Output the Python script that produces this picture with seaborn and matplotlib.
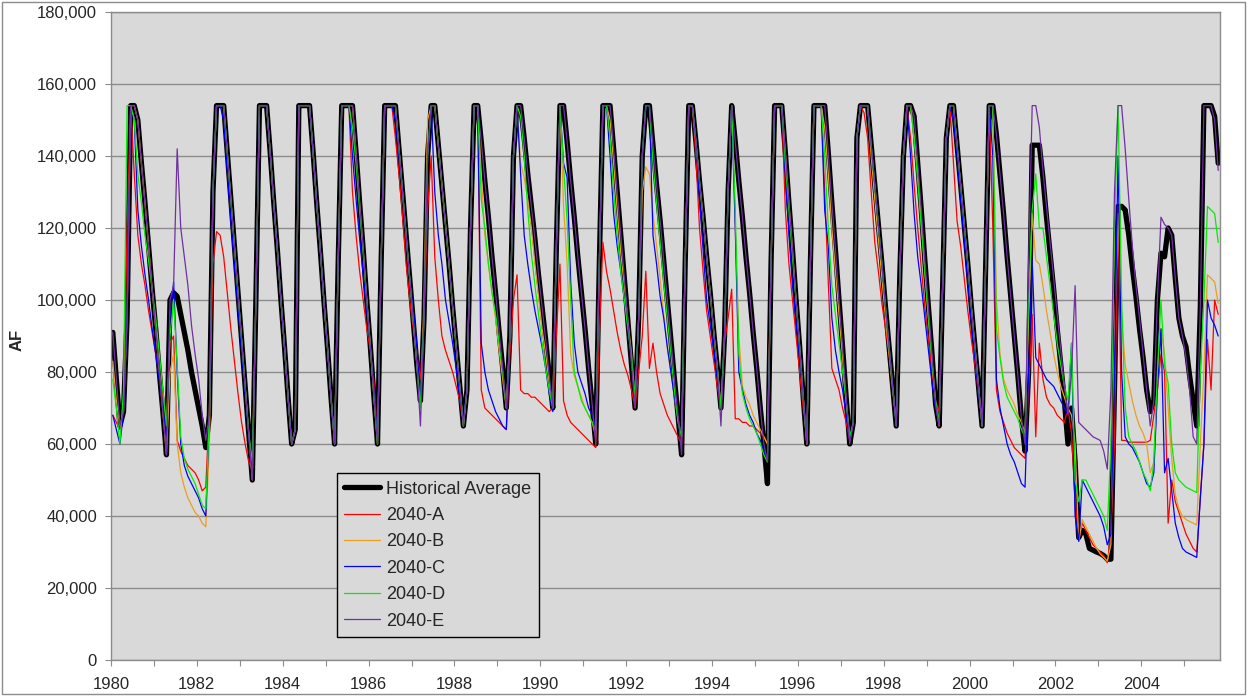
import numpy as np
import pandas as pd
import matplotlib
matplotlib.use("Agg")
import matplotlib.pyplot as plt
from matplotlib.patches import Rectangle
from matplotlib.ticker import FuncFormatter, MultipleLocator
import seaborn as sns

# Monthly storage in thousand AF, one row per calendar year (Jan 1980 - Oct 2005)
hist = [
    [91, 78, 65, 69, 95, 154, 154, 150, 138, 127, 115, 103],
    [92, 80, 69, 57, 100, 102, 101, 96, 91, 86, 80, 75],
    [70, 65, 59, 68, 130, 154, 154, 154, 141, 128, 115, 102],
    [89, 76, 63, 50, 100, 154, 154, 154, 141, 127, 114, 100],
    [87, 73, 60, 64, 154, 154, 154, 154, 141, 127, 114, 100],
    [87, 73, 60, 110, 154, 154, 154, 154, 141, 127, 114, 100],
    [87, 73, 60, 110, 154, 154, 154, 154, 142, 130, 118, 106],
    [94, 82, 72, 95, 140, 154, 154, 143, 132, 121, 110, 98],
    [87, 76, 65, 75, 120, 154, 154, 144, 133, 123, 112, 102],
    [91, 81, 70, 90, 140, 154, 154, 145, 135, 126, 117, 107],
    [98, 89, 79, 70, 115, 154, 154, 144, 133, 123, 112, 102],
    [92, 81, 71, 60, 110, 154, 154, 154, 142, 130, 118, 106],
    [94, 82, 70, 95, 140, 154, 154, 143, 132, 122, 111, 100],
    [89, 78, 68, 57, 110, 154, 154, 144, 133, 123, 112, 102],
    [91, 81, 70, 90, 130, 154, 144, 133, 123, 112, 102, 91],
    [81, 70, 60, 49, 110, 154, 154, 154, 141, 127, 114, 100],
    [87, 73, 60, 110, 154, 154, 154, 154, 141, 127, 114, 100],
    [87, 73, 60, 66, 145, 154, 154, 154, 143, 132, 121, 110],
    [98, 87, 76, 65, 107, 140, 154, 154, 151, 138, 125, 111],
    [98, 85, 71, 65, 105, 145, 154, 154, 143, 132, 121, 110],
    [98, 87, 76, 65, 110, 154, 154, 146, 135, 124, 112, 101],
    [90, 79, 67, 58, 80, 143, 143, 143, 134, 123, 113, 103],
    [92, 82, 72, 60, 70, 55, 34, 36, 35, 31, 30.5, 30],
    [29.6, 29, 28, 28, 75, 126, 126, 125, 118, 109, 101, 92],
    [84, 75, 69, 72, 100, 113, 112, 120, 118, 106, 95, 90],
    [87, 79, 72, 65, 98, 154, 154, 154, 151, 138],
]

scen_a = [
    [68, 66, 64, 70, 120, 154, 135, 118, 110, 104, 97, 91],
    [85, 79, 73, 67, 88, 90, 61, 58, 56, 54, 53, 52],
    [50, 47, 48, 70, 110, 119, 118, 112, 102, 92, 83, 74],
    [66, 60, 55, 53, 100, 154, 154, 154, 141, 127, 114, 100],
    [87, 73, 60, 64, 154, 154, 154, 154, 141, 127, 114, 100],
    [87, 73, 60, 110, 154, 154, 154, 130, 118, 108, 100, 92],
    [86, 77, 62, 110, 154, 154, 154, 145, 135, 123, 110, 100],
    [92, 85, 78, 95, 125, 140, 112, 100, 90, 86, 83, 80],
    [76, 72, 66, 75, 120, 154, 154, 75, 70, 69, 68, 67],
    [66, 65, 64, 85, 100, 107, 75, 74, 74, 73, 73, 72],
    [71, 70, 69, 70, 90, 110, 72, 68, 66, 65, 64, 63],
    [62, 61, 60, 59, 90, 116, 108, 103, 97, 91, 86, 82],
    [79, 75, 70, 80, 90, 108, 81, 88, 80, 74, 71, 68],
    [66, 64, 62, 60, 110, 154, 154, 140, 120, 108, 97, 90],
    [83, 76, 70, 88, 95, 103, 67, 67, 66, 66, 65, 65],
    [64, 63, 62, 60, 110, 154, 154, 154, 125, 110, 100, 90],
    [80, 70, 62, 110, 154, 154, 154, 130, 105, 81, 78, 75],
    [70, 66, 61, 66, 145, 154, 152, 145, 130, 116, 108, 99],
    [92, 85, 76, 66, 107, 140, 154, 145, 132, 120, 109, 98],
    [89, 80, 72, 69, 105, 145, 154, 138, 122, 115, 106, 97],
    [89, 82, 74, 67, 110, 154, 120, 75, 69, 66, 63, 61],
    [59, 58, 57, 56, 75, 96, 62, 88, 78, 73, 71, 70],
    [68, 67, 66, 70, 63, 45, 33, 38, 36, 34, 32, 31],
    [30, 29, 27, 35, 60, 126, 61, 61, 60.5, 60.5, 60.5, 60.5],
    [60.5, 60.5, 61, 68, 75, 85, 80, 38, 50, 44, 41, 38],
    [35, 33, 31, 30, 45, 60, 89, 75, 100, 96],
]

scen_b = [
    [83, 72, 65, 69, 95, 154, 154, 150, 138, 127, 115, 103],
    [92, 80, 69, 57, 80, 85, 60, 52, 48, 45, 43, 41],
    [40, 38, 37, 60, 130, 154, 154, 154, 141, 128, 115, 102],
    [89, 76, 63, 50, 100, 154, 154, 154, 141, 127, 114, 100],
    [87, 73, 60, 64, 154, 154, 154, 154, 141, 127, 114, 100],
    [87, 73, 60, 110, 154, 154, 154, 154, 141, 127, 114, 100],
    [87, 73, 60, 110, 154, 154, 154, 154, 142, 130, 118, 106],
    [94, 82, 70, 100, 150, 154, 154, 143, 132, 121, 110, 98],
    [87, 76, 65, 75, 120, 154, 154, 135, 118, 110, 102, 95],
    [86, 78, 70, 90, 140, 154, 138, 134, 128, 120, 110, 101],
    [92, 85, 77, 70, 115, 154, 126, 110, 85, 79, 76, 73],
    [70, 68, 66, 62, 110, 154, 154, 150, 138, 125, 113, 104],
    [94, 85, 72, 95, 130, 137, 135, 124, 115, 106, 96, 87],
    [80, 73, 67, 62, 110, 154, 154, 144, 133, 123, 112, 102],
    [91, 81, 70, 90, 130, 154, 120, 90, 76, 73, 71, 68],
    [66, 64, 62, 60, 110, 154, 154, 154, 141, 127, 114, 100],
    [87, 73, 60, 110, 154, 154, 154, 148, 135, 120, 108, 96],
    [84, 72, 61, 66, 145, 154, 154, 154, 140, 128, 117, 106],
    [95, 85, 75, 66, 107, 140, 154, 154, 145, 136, 122, 108],
    [95, 83, 71, 65, 105, 145, 154, 154, 143, 132, 121, 110],
    [98, 87, 76, 65, 110, 154, 154, 100, 85, 78, 75, 73],
    [71, 68, 66, 63, 95, 124, 111, 110, 104, 97, 91, 85],
    [80, 76, 73, 70, 68, 60, 33, 39, 37, 35, 33, 31],
    [29.5, 28.5, 27.5, 32, 90, 124, 95, 82, 77, 72, 68, 65],
    [63, 60, 52, 55, 75, 92, 85, 70, 56, 46, 42, 40],
    [39, 38.5, 38, 37.5, 60, 80, 107, 106, 105, 99],
]

scen_c = [
    [68, 64, 60, 69, 95, 154, 150, 125, 115, 107, 100, 92],
    [85, 78, 70, 62, 95, 105, 80, 60, 54, 51, 49, 47],
    [45, 42, 40, 68, 130, 154, 154, 150, 136, 122, 110, 98],
    [86, 74, 62, 52, 100, 154, 154, 154, 141, 127, 114, 100],
    [87, 73, 60, 64, 154, 154, 154, 154, 141, 127, 114, 100],
    [87, 73, 60, 110, 154, 154, 154, 140, 128, 117, 107, 97],
    [87, 75, 62, 110, 154, 154, 154, 150, 140, 130, 117, 106],
    [97, 87, 72, 95, 140, 154, 130, 118, 110, 100, 94, 88],
    [81, 73, 67, 75, 120, 154, 154, 88, 80, 75, 72, 69],
    [67, 65, 64, 90, 140, 154, 135, 118, 110, 103, 97, 92],
    [87, 81, 74, 69, 115, 154, 138, 134, 105, 88, 80, 77],
    [74, 70, 68, 65, 110, 154, 154, 140, 124, 115, 108, 100],
    [92, 84, 73, 95, 140, 154, 154, 118, 110, 101, 95, 87],
    [80, 73, 67, 62, 110, 154, 154, 145, 128, 114, 100, 93],
    [86, 78, 70, 90, 130, 154, 120, 80, 75, 71, 68, 66],
    [63, 61, 58, 56, 110, 154, 154, 154, 135, 118, 104, 94],
    [84, 73, 62, 110, 154, 154, 154, 125, 115, 95, 86, 80],
    [75, 68, 61, 66, 145, 154, 154, 154, 143, 132, 121, 110],
    [98, 87, 76, 65, 107, 140, 154, 140, 124, 112, 104, 95],
    [86, 77, 70, 66, 105, 145, 154, 150, 140, 128, 117, 105],
    [94, 84, 74, 66, 110, 154, 140, 78, 70, 65, 60, 57],
    [55, 52, 49, 48, 80, 111, 84, 82, 80, 78, 77, 76],
    [74, 72, 70, 68, 88, 40, 33, 50, 48, 46, 44, 42],
    [40, 37, 32, 35, 80, 140, 80, 62, 60, 59, 57, 55],
    [52, 49, 48, 52, 75, 92, 52, 56, 47, 38, 34, 31],
    [30, 29.5, 29, 28.5, 45, 60, 100, 95, 93, 90],
]

scen_d = [
    [78, 70, 60, 75, 154, 154, 150, 135, 127, 118, 111, 103],
    [95, 85, 75, 65, 90, 100, 82, 62, 56, 53, 51, 49],
    [46, 43, 42, 68, 130, 154, 154, 154, 141, 128, 115, 102],
    [89, 76, 63, 55, 100, 154, 154, 154, 141, 127, 114, 100],
    [87, 73, 60, 64, 154, 154, 154, 154, 141, 127, 114, 100],
    [87, 73, 60, 110, 154, 154, 154, 148, 138, 125, 113, 100],
    [87, 73, 60, 110, 154, 154, 154, 154, 142, 130, 118, 106],
    [94, 82, 70, 95, 140, 154, 154, 143, 132, 121, 110, 98],
    [87, 76, 65, 75, 120, 154, 154, 128, 120, 110, 102, 96],
    [88, 80, 70, 90, 140, 154, 151, 140, 125, 113, 104, 96],
    [88, 81, 75, 70, 115, 154, 137, 122, 100, 80, 76, 72],
    [70, 68, 66, 64, 110, 154, 154, 145, 130, 118, 108, 100],
    [92, 84, 73, 95, 140, 154, 154, 138, 127, 116, 105, 95],
    [85, 75, 66, 62, 110, 154, 154, 144, 133, 123, 112, 102],
    [91, 81, 70, 90, 130, 154, 125, 85, 74, 70, 67, 65],
    [63, 60, 57, 55, 110, 154, 154, 154, 138, 125, 112, 100],
    [87, 73, 60, 110, 154, 154, 154, 140, 120, 104, 96, 88],
    [80, 72, 62, 66, 145, 154, 154, 154, 143, 132, 121, 110],
    [98, 87, 76, 65, 107, 140, 154, 154, 145, 133, 120, 108],
    [95, 83, 72, 66, 105, 145, 154, 154, 143, 132, 121, 110],
    [98, 87, 76, 65, 110, 154, 154, 92, 84, 77, 73, 71],
    [69, 67, 64, 62, 100, 125, 135, 120, 120, 112, 104, 96],
    [88, 82, 76, 72, 88, 50, 44, 50, 50, 48, 46, 44],
    [42, 40, 36, 60, 120, 154, 100, 70, 62, 60, 58, 55],
    [52, 50, 47, 55, 80, 100, 82, 77, 60, 52, 50, 49],
    [48, 47.5, 47, 46.5, 80, 100, 126, 125, 124, 116],
]

scen_e = [
    [91, 78, 65, 69, 95, 154, 154, 150, 138, 127, 115, 103],
    [92, 80, 69, 57, 100, 104, 142, 120, 112, 104, 93, 85],
    [78, 68, 61, 68, 130, 154, 154, 154, 141, 128, 115, 102],
    [89, 76, 63, 50, 100, 154, 154, 154, 141, 127, 114, 100],
    [87, 73, 60, 64, 154, 154, 154, 154, 141, 127, 114, 100],
    [87, 73, 60, 110, 154, 154, 154, 154, 141, 127, 114, 100],
    [87, 73, 60, 110, 154, 154, 154, 154, 142, 130, 118, 106],
    [94, 82, 65, 95, 140, 154, 154, 143, 132, 121, 110, 98],
    [87, 76, 65, 75, 120, 154, 154, 144, 133, 123, 112, 102],
    [91, 81, 70, 90, 140, 154, 154, 145, 135, 126, 117, 107],
    [98, 89, 79, 70, 115, 154, 154, 144, 133, 123, 112, 102],
    [92, 81, 71, 60, 110, 154, 154, 154, 142, 130, 118, 106],
    [94, 82, 70, 95, 140, 154, 154, 143, 132, 122, 111, 100],
    [89, 78, 68, 57, 110, 154, 154, 144, 133, 123, 112, 102],
    [91, 81, 65, 90, 130, 154, 144, 133, 123, 112, 102, 91],
    [81, 70, 60, 55, 110, 154, 154, 154, 141, 127, 114, 100],
    [87, 73, 60, 110, 154, 154, 154, 154, 141, 127, 114, 100],
    [87, 73, 60, 66, 145, 154, 154, 154, 143, 132, 121, 110],
    [98, 87, 76, 65, 107, 140, 154, 154, 151, 138, 125, 111],
    [98, 85, 71, 65, 105, 145, 154, 154, 143, 132, 121, 110],
    [98, 87, 76, 65, 110, 154, 154, 146, 135, 124, 112, 101],
    [90, 79, 67, 60, 110, 154, 154, 148, 136, 126, 116, 106],
    [96, 86, 76, 68, 80, 104, 66, 65, 64, 63, 62, 61.5],
    [61, 58, 53, 75, 130, 154, 154, 142, 128, 115, 104, 95],
    [85, 75, 65, 72, 100, 123, 121, 120, 118, 106, 95, 90],
    [84, 75, 62, 60, 98, 154, 154, 154, 150, 136],
]

series_names = ["Historical Average", "2040-A", "2040-B", "2040-C", "2040-D", "2040-E"]
series_rows = [hist, scen_a, scen_b, scen_c, scen_d, scen_e]
colors = ["black", "#FF0000", "#E8A020", "#0000FF", "#00EE00", "#7030A0"]
widths = [3.8, 0.9, 0.9, 0.9, 0.9, 0.9]

frames = []
for name, rows in zip(series_names, series_rows):
    vals = [v * 1000 for row in rows for v in row]
    t = 1980 + (np.arange(len(vals)) + 0.5) / 12
    frames.append(pd.DataFrame({"date": t, "AF": vals, "series": name}))
df = pd.concat(frames, ignore_index=True)

sns.set_style("whitegrid", {"axes.facecolor": "#D9D9D9", "grid.color": "#8C8C8C",
                            "axes.edgecolor": "#8C8C8C"})
plt.rcParams["font.family"] = ["Liberation Sans", "DejaVu Sans"]

fig = plt.figure(figsize=(12.47, 6.96), dpi=100)
ax = fig.add_axes([111 / 1247, 1 - 660 / 696, 1109 / 1247, 648 / 696])

for name, c, lw in zip(series_names, colors, widths):
    sns.lineplot(data=df[df["series"] == name], x="date", y="AF", color=c, linewidth=lw,
                 estimator=None, sort=False, label=name, ax=ax)

ax.set_xlim(1980, 1980 + 310 / 12)
ax.set_ylim(0, 180000)
ax.yaxis.set_major_locator(MultipleLocator(20000))
ax.yaxis.set_major_formatter(FuncFormatter(lambda v, p: f"{int(v):,}"))
ax.xaxis.set_major_locator(MultipleLocator(1))
ax.xaxis.set_major_formatter(FuncFormatter(lambda v, p: f"{int(round(v))}" if int(round(v)) % 2 == 0 else ""))
ax.grid(axis="x", visible=False)
ax.grid(axis="y", color="#8C8C8C", linewidth=1.0)
ax.tick_params(axis="both", which="major", direction="out", length=4, width=0.8,
               color="#8C8C8C", labelsize=12, left=True, bottom=True)
ax.tick_params(axis="y", pad=6)
ax.tick_params(axis="x", pad=8)
for s in ax.spines.values():
    s.set_color("#8C8C8C")
    s.set_linewidth(1.0)

ax.set_xlabel("")
ax.set_ylabel("AF", fontsize=12, fontweight="bold")
ax.yaxis.set_label_coords(-0.078, 0.494)

leg = ax.legend(loc="upper left", bbox_to_anchor=(0.2035, 0.288), fontsize=13,
                frameon=True, fancybox=False, framealpha=1, edgecolor="black",
                handlelength=2.0, handletextpad=0.35, labelspacing=0.52, borderpad=0.4,
                borderaxespad=0)
leg.get_frame().set_linewidth(1.0)

fig.patches.append(Rectangle((2 / 1247, 2 / 696), 1243 / 1247, 692 / 696, transform=fig.transFigure,
                             fill=False, edgecolor="#8C8C8C", linewidth=1.0))

fig.savefig("out.png", dpi=100, facecolor="white")
